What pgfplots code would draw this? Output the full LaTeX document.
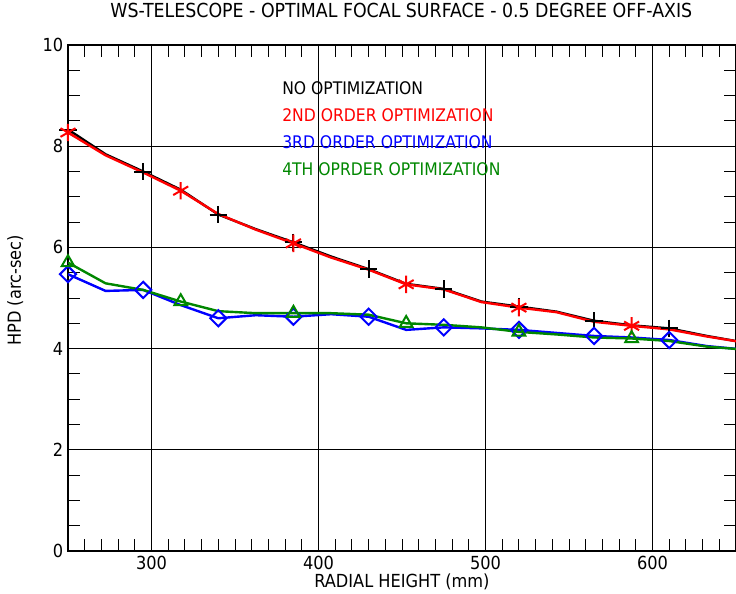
\documentclass[border=0pt]{standalone}
\usepackage{pgfplots}
\pgfplotsset{compat=1.18}
\usepackage{pgfplotstable}
\usepackage{fontspec}
\setmainfont{DejaVu Sans Condensed}
\definecolor{myred}{RGB}{255,0,0}
\definecolor{myblue}{RGB}{0,0,255}
\definecolor{mygreen}{RGB}{0,135,0}
\pgfplotstableread{
x      noopt  second third fourth
250    8.33   8.27   5.47  5.70
272.5  7.84   7.82   5.14  5.29
295    7.50   7.48   5.16  5.16
317.5  7.14   7.12   4.86  4.93
340    6.65   6.66   4.60  4.74
362.5  6.36   6.35   4.66  4.70
385    6.10   6.08   4.63  4.70
407.5  5.82   5.80   4.68  4.70
430    5.57   5.56   4.63  4.67
452.5  5.28   5.27   4.37  4.50
475    5.18   5.17   4.42  4.47
497.5  4.93   4.92   4.40  4.42
520    4.83   4.81   4.37  4.33
542.5  4.73   4.72   4.31  4.28
565    4.55   4.53   4.25  4.22
587.5  4.46   4.45   4.22  4.20
610    4.40   4.38   4.17  4.15
632.5  4.25   4.24   4.05  4.04
655    4.12   4.12   3.98  3.98
}\datatable
\begin{document}
\begin{tikzpicture}
\begin{axis}[name=ax, scale only axis, width=501pt, height=379.5pt,
  xmin=250, xmax=650, ymin=0, ymax=10,
  xtick={300,400,500,600}, ytick={0,2,...,10},
  minor xtick={260,270,...,640}, minor ytick={0.5,1,...,9.5},
  grid=major, major grid style={black, line width=0.7pt},
  tick align=inside, major tick length=0pt, minor tick length=9pt,
  tick style={black, line width=0.7pt},
  axis line style={black, line width=1pt},
  /pgf/number format/assume math mode=true,
  tick label style={font=\fontsize{13.5}{15}\selectfont},
  label style={font=\fontsize{13.5}{15}\selectfont},
  title style={font=\fontsize{14.5}{16}\selectfont, at={(axis description cs:0.499,1.053)}, anchor=center},
  title={WS-TELESCOPE - OPTIMAL FOCAL SURFACE - 0.5 DEGREE OFF-AXIS},
  xlabel={RADIAL HEIGHT (mm)},
  ylabel={HPD (arc-sec)},
  xlabel style={at={(axis description cs:0.5,-0.061)}, anchor=center},
  ylabel style={at={(axis description cs:-0.079,0.515)}, anchor=center},
  every axis plot/.append style={line width=1.8pt},
]
\addplot[black, mark=+, mark size=6.5pt, mark repeat=2, mark options={solid, line width=1.5pt}] table[x=x, y=noopt] {\datatable};
\addplot[myred, mark=asterisk, mark size=6.5pt, mark repeat=3, mark options={solid, line width=1.5pt}] table[x=x, y=second] {\datatable};
\addplot[myblue, mark=square, mark size=4.3pt, mark repeat=2, mark options={solid, line width=1.5pt, rotate=45, fill=none}] table[x=x, y=third] {\datatable};
\addplot[mygreen, mark=triangle, mark size=5.5pt, mark repeat=3, mark options={solid, line width=1.5pt, fill=none}] table[x=x, y=fourth] {\datatable};
\node[anchor=west, text=black, font=\fontsize{13}{15}\selectfont] at (axis cs:375.5,9.15) {NO OPTIMIZATION};
\node[anchor=west, text=myred, font=\fontsize{13}{15}\selectfont] at (axis cs:375.5,8.62) {2ND ORDER OPTIMIZATION};
\node[anchor=west, text=myblue, font=\fontsize{13}{15}\selectfont] at (axis cs:375.5,8.08) {3RD ORDER OPTIMIZATION};
\node[anchor=west, text=mygreen, font=\fontsize{13}{15}\selectfont] at (axis cs:375.5,7.55) {4TH OPRDER OPTIMIZATION};
\end{axis}
\pgfresetboundingbox
\path ([shift={(-51pt,-31.5pt)}]ax.south west) rectangle ([shift={(0pt,33.75pt)}]ax.north east);
\end{tikzpicture}
\end{document}
